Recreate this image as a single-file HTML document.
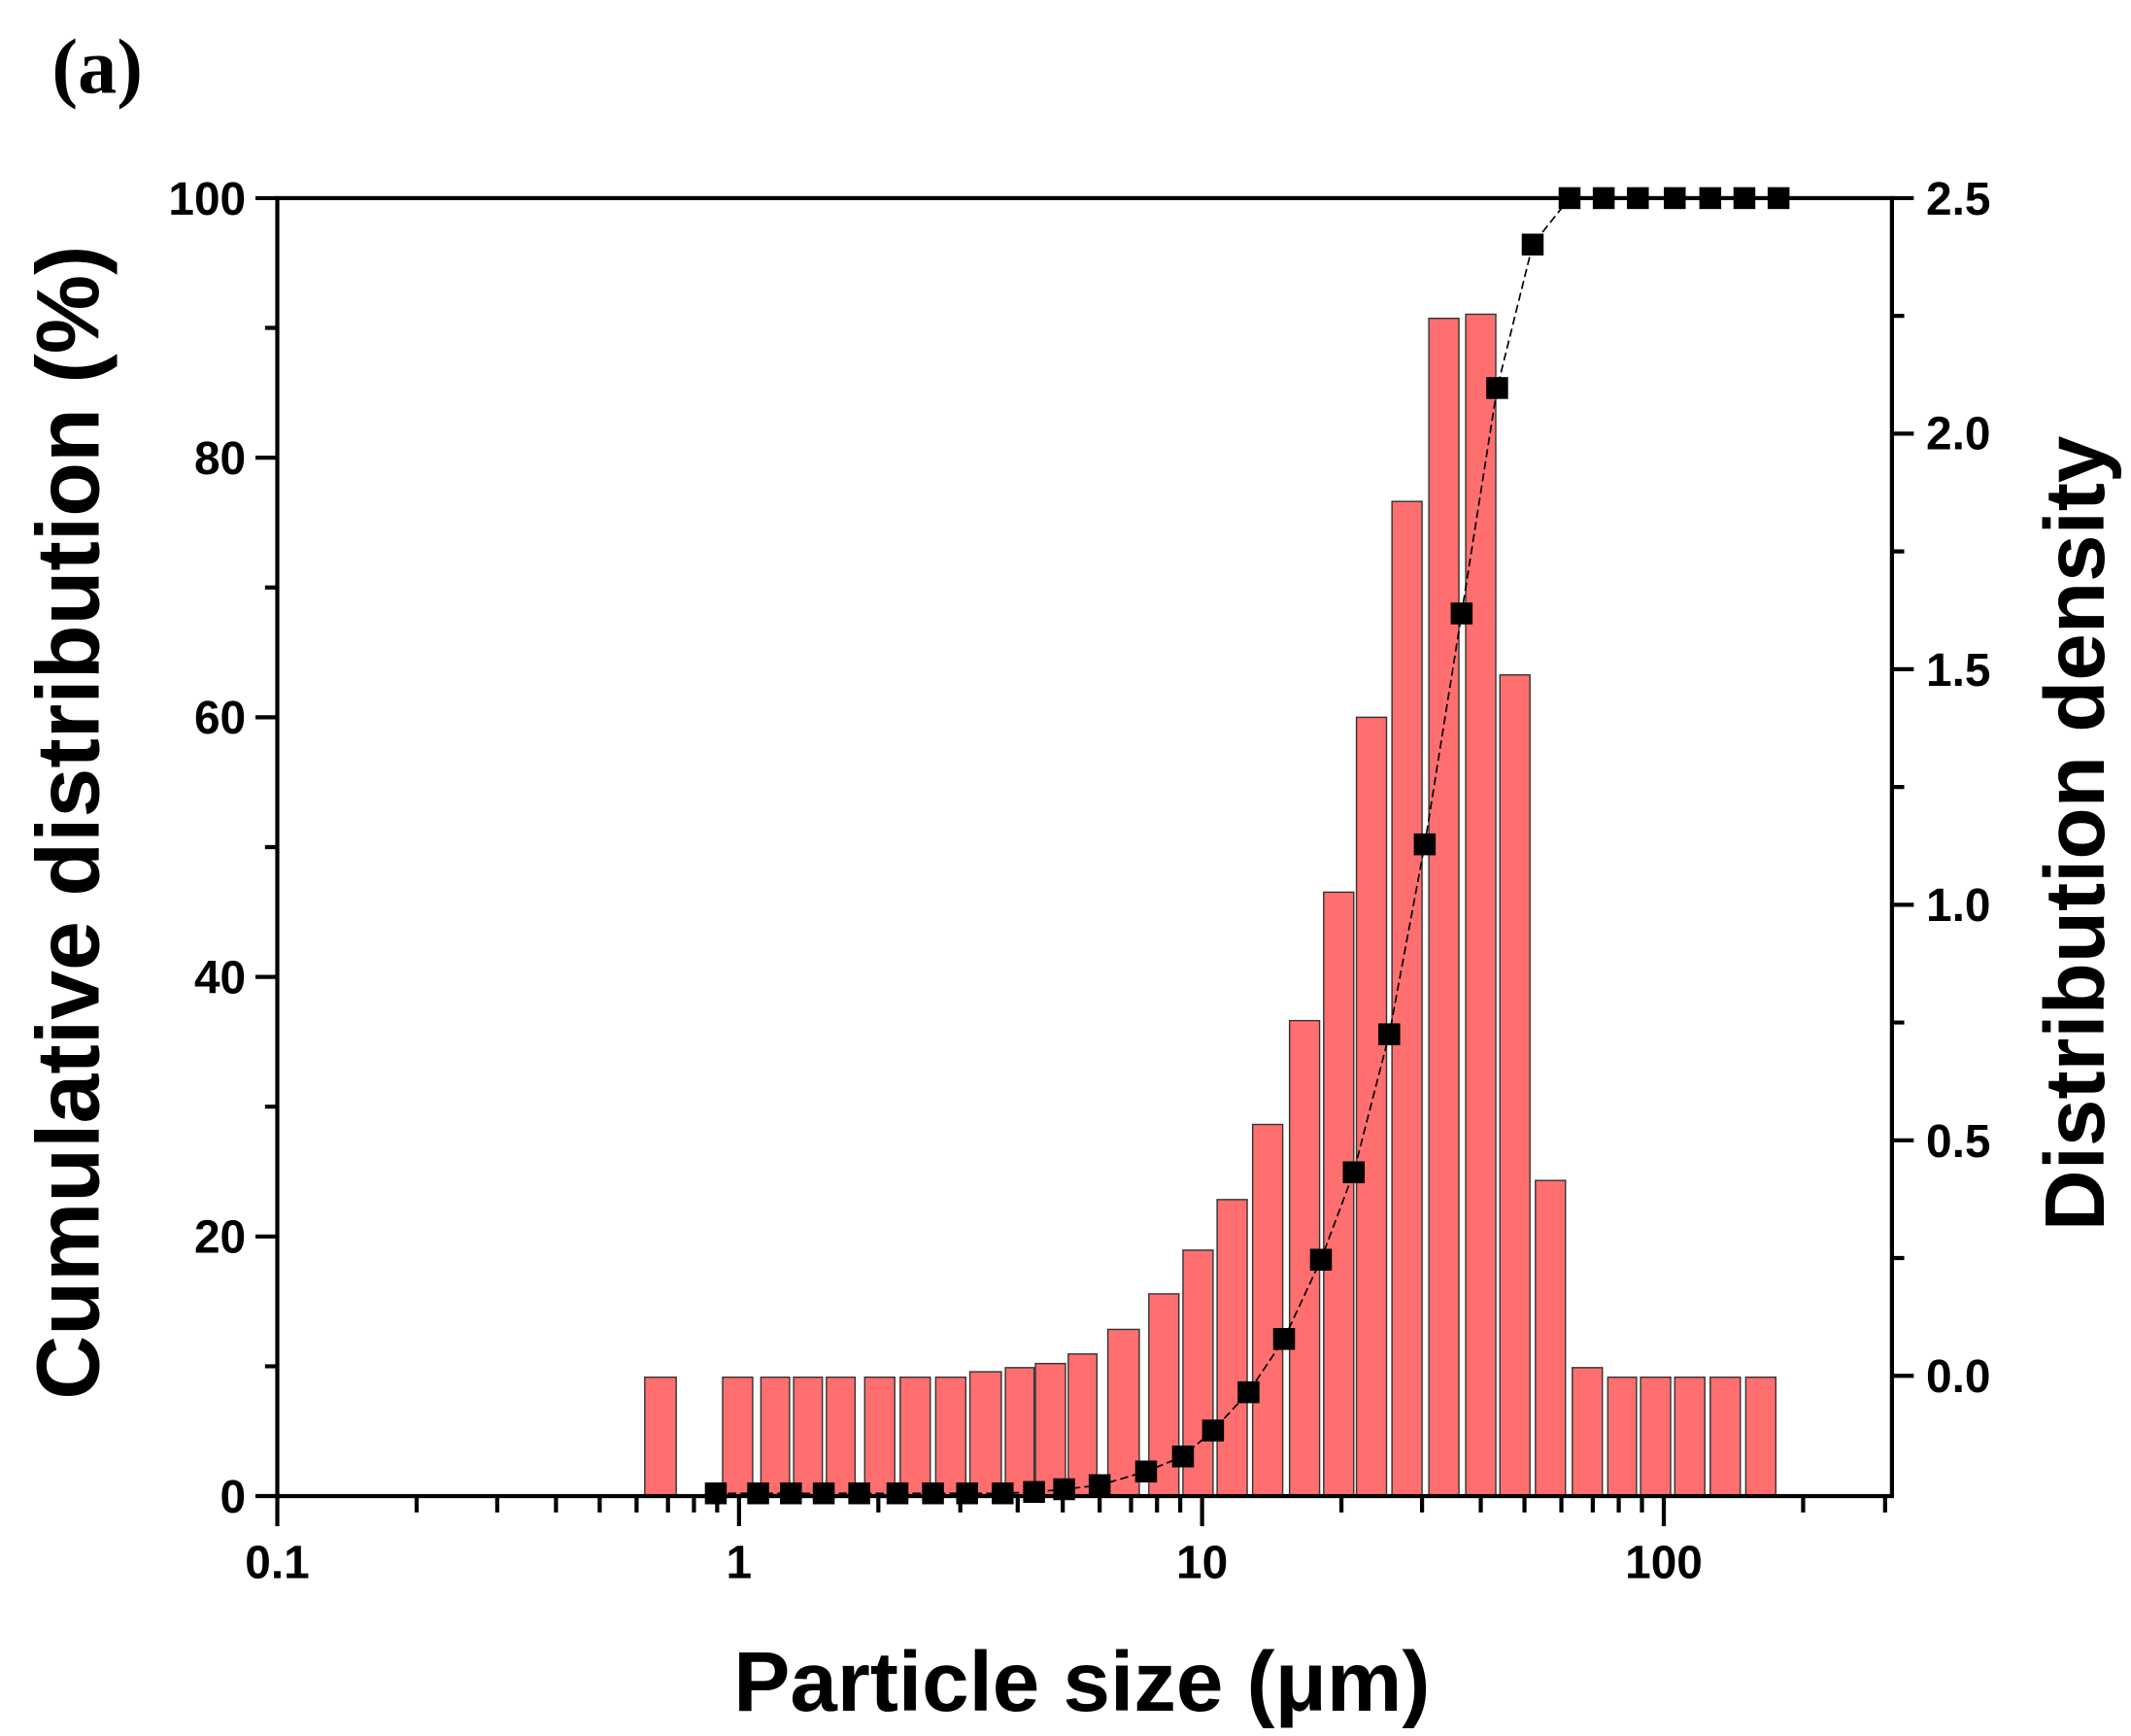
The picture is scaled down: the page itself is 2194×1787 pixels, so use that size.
<!DOCTYPE html>
<html><head><meta charset="utf-8"><style>
html,body{margin:0;padding:0;background:#fff;}
svg{display:block;}
text{font-family:"Liberation Sans",sans-serif;}
</style></head><body>
<svg width="2194" height="1787" viewBox="0 0 1560 1270.6" preserveAspectRatio="none" xmlns="http://www.w3.org/2000/svg">
<text x="38" y="68" font-weight="bold" font-size="57" style="font-family:'Liberation Serif',serif">(a)</text>
<g fill="#ff6f6f" stroke="#333" stroke-width="1">
<rect x="472" y="1008" width="23" height="87"/>
<rect x="529" y="1008" width="22" height="87"/>
<rect x="557" y="1008" width="21" height="87"/>
<rect x="581" y="1008" width="21" height="87"/>
<rect x="605" y="1008" width="21" height="87"/>
<rect x="633" y="1008" width="22" height="87"/>
<rect x="659" y="1008" width="22" height="87"/>
<rect x="685" y="1008" width="22" height="87"/>
<rect x="710" y="1004" width="23" height="91"/>
<rect x="736" y="1001" width="21" height="94"/>
<rect x="758" y="998" width="22" height="97"/>
<rect x="782" y="991" width="21" height="104"/>
<rect x="811" y="973" width="23" height="122"/>
<rect x="841" y="947" width="22" height="148"/>
<rect x="866" y="915" width="22" height="180"/>
<rect x="891" y="878" width="22" height="217"/>
<rect x="917" y="823" width="22" height="272"/>
<rect x="944" y="747" width="22" height="348"/>
<rect x="969" y="653" width="22" height="442"/>
<rect x="993" y="525" width="22" height="570"/>
<rect x="1019" y="367" width="22" height="728"/>
<rect x="1046" y="233" width="22" height="862"/>
<rect x="1073" y="230" width="22" height="865"/>
<rect x="1098" y="494" width="22" height="601"/>
<rect x="1124" y="864" width="22" height="231"/>
<rect x="1151" y="1001" width="22" height="94"/>
<rect x="1177" y="1008" width="21" height="87"/>
<rect x="1201" y="1008" width="22" height="87"/>
<rect x="1226" y="1008" width="22" height="87"/>
<rect x="1252" y="1008" width="22" height="87"/>
<rect x="1278" y="1008" width="22" height="87"/>
</g>
<polyline fill="none" stroke="#000" stroke-width="1.2" stroke-dasharray="6,3" points="524,1093 555,1093 579,1093 603,1093 629,1093 657,1093 683,1093 708,1093 734,1093 757,1092 779,1090 805,1087 839,1077 866,1066 888,1047 914,1019 940,980 967,922 991,858 1017,757 1043,618 1070,449 1096,284 1122,179 1149,145 1174,145 1199,145 1226,145 1252,145 1277,145 1302,145"/>
<g fill="#000">
<rect x="516" y="1085" width="16" height="16"/><rect x="547" y="1085" width="16" height="16"/><rect x="571" y="1085" width="16" height="16"/><rect x="595" y="1085" width="16" height="16"/><rect x="621" y="1085" width="16" height="16"/><rect x="649" y="1085" width="16" height="16"/><rect x="675" y="1085" width="16" height="16"/><rect x="700" y="1085" width="16" height="16"/><rect x="726" y="1085" width="16" height="16"/><rect x="749" y="1084" width="16" height="16"/><rect x="771" y="1082" width="16" height="16"/><rect x="797" y="1079" width="16" height="16"/><rect x="831" y="1069" width="16" height="16"/><rect x="858" y="1058" width="16" height="16"/><rect x="880" y="1039" width="16" height="16"/><rect x="906" y="1011" width="16" height="16"/><rect x="932" y="972" width="16" height="16"/><rect x="959" y="914" width="16" height="16"/><rect x="983" y="850" width="16" height="16"/><rect x="1009" y="749" width="16" height="16"/><rect x="1035" y="610" width="16" height="16"/><rect x="1062" y="441" width="16" height="16"/><rect x="1088" y="276" width="16" height="16"/><rect x="1114" y="171" width="16" height="16"/><rect x="1141" y="137" width="16" height="16"/><rect x="1166" y="137" width="16" height="16"/><rect x="1191" y="137" width="16" height="16"/><rect x="1218" y="137" width="16" height="16"/><rect x="1244" y="137" width="16" height="16"/><rect x="1269" y="137" width="16" height="16"/><rect x="1294" y="137" width="16" height="16"/>
</g>
<g stroke="#000" stroke-width="3" fill="none">
<rect x="203" y="145" width="1182" height="950"/>
<path d="M203 145h-16M203 335h-16M203 525h-16M203 715h-16M203 905h-16M203 1095h-16M203 240h-9M203 430h-9M203 620h-9M203 810h-9M203 1000h-9"/>
<path d="M1385 145h16M1385 317.4h16M1385 489.8h16M1385 662.2h16M1385 834.6h16M1385 1007h16M1385 231.2h9M1385 403.6h9M1385 576h9M1385 748.4h9M1385 920.8h9"/>
<path d="M203 1095v22M541 1095v22M880 1095v22M1218 1095v22M305 1095v12M364 1095v12M407 1095v12M439 1095v12M466 1095v12M489 1095v12M508 1095v12M525 1095v12M643 1095v12M703 1095v12M745 1095v12M778 1095v12M805 1095v12M828 1095v12M847 1095v12M864 1095v12M982 1095v12M1041 1095v12M1084 1095v12M1116 1095v12M1143 1095v12M1166 1095v12M1185 1095v12M1202 1095v12M1320 1095v12M1380 1095v12"/>
</g>
<g font-size="34" font-weight="bold" text-anchor="end">
<text x="180" y="157">100</text><text x="180" y="347">80</text><text x="180" y="537">60</text><text x="180" y="727">40</text><text x="180" y="917">20</text><text x="180" y="1107">0</text>
</g>
<g font-size="34" font-weight="bold" text-anchor="start">
<text x="1410" y="157">2.5</text><text x="1410" y="329">2.0</text><text x="1410" y="502">1.5</text><text x="1410" y="674">1.0</text><text x="1410" y="847">0.5</text><text x="1410" y="1019">0.0</text>
</g>
<g font-size="34" font-weight="bold" text-anchor="middle">
<text x="203" y="1155">0.1</text><text x="541" y="1155">1</text><text x="880" y="1155">10</text><text x="1218" y="1155">100</text>
</g>
<text x="792" y="1252" font-size="62" font-weight="bold" text-anchor="middle">Particle size (μm)</text>
<text transform="translate(72,602) rotate(-90)" font-size="65" font-weight="bold" text-anchor="middle">Cumulative distribution (%)</text>
<text transform="translate(1540,610) rotate(-90)" font-size="62" font-weight="bold" text-anchor="middle">Distribution density</text>
</svg>
</body></html>
